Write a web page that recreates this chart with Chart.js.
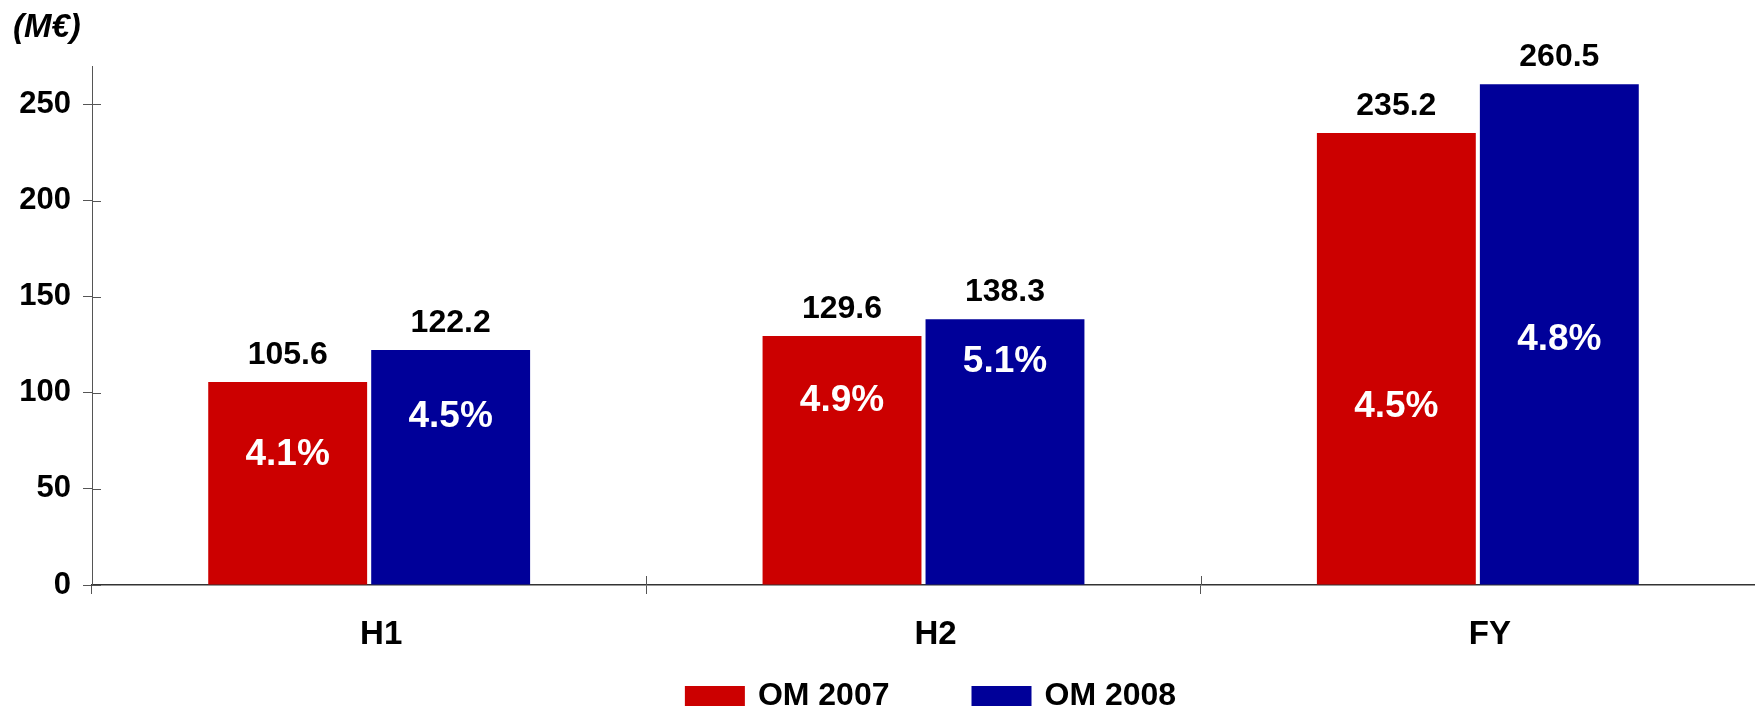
<!DOCTYPE html>
<html>
<head>
<meta charset="utf-8">
<title>OM 2007 / OM 2008</title>
<script src="https://cdn.jsdelivr.net/npm/chart.js@4.4.1/dist/chart.umd.min.js"></script>
<style>
  html, body { margin: 0; padding: 0; background: #fff; }
  #wrap { width: 1755px; height: 711px; position: relative; }
</style>
</head>
<body>
<div id="wrap"><canvas id="omChart"></canvas></div>
<script>
// operating margin (M€) per half-year and full year
const periods = ['H1', 'H2', 'FY'];
const om2007 = [105.6, 129.6, 235.2];
const om2008 = [122.2, 138.3, 260.5];
// margin rate written inside each bar (%)
const rate2007 = [4.1, 4.9, 4.5];
const rate2008 = [4.5, 5.1, 4.8];
const seriesNames = ['OM 2007', 'OM 2008'];
const yMax = 270;
const yStep = 50;

const FONT = "'Liberation Sans', Arial, sans-serif";
const RED = '#cc0000';
const BLUE = '#000099';

// height (in M€) where each rate label sits inside its bar
const rateLabelAt = [
    [67.9, 96.0, 92.9],
    [87.3, 116.3, 127.7]
];

// draws the inner half of the crossing ticks, value labels, rates, unit and legend
const decorations = {
    id: 'decorations',
    afterDatasetsDraw(chart) {
        const ctx = chart.ctx;
        const area = chart.chartArea;
        const x = chart.scales.x;
        const y = chart.scales.y;

        ctx.save();
        // ticks reaching into the plot area
        ctx.strokeStyle = '#555';
        ctx.lineWidth = 1;
        y.ticks.forEach(t => {
            const py = Math.round(y.getPixelForValue(t.value)) + 0.5;
            ctx.beginPath();
            ctx.moveTo(area.left, py);
            ctx.lineTo(area.left + 9, py);
            ctx.stroke();
        });
        for (let i = 1; i < periods.length; i++) {
            const px = Math.round((x.getPixelForValue(i - 1) + x.getPixelForValue(i)) / 2) + 0.5;
            ctx.beginPath();
            ctx.moveTo(px, area.bottom);
            ctx.lineTo(px, area.bottom - 9);
            ctx.stroke();
        }

        // values above bars, rates inside
        ctx.textAlign = 'center';
        ctx.textBaseline = 'middle';
        chart.data.datasets.forEach((ds, di) => {
            const meta = chart.getDatasetMeta(di);
            const rates = di === 0 ? rate2007 : rate2008;
            meta.data.forEach((bar, i) => {
                ctx.fillStyle = '#000';
                ctx.font = 'bold 32px ' + FONT;
                ctx.fillText(ds.data[i].toFixed(1), bar.x, bar.y - 27);
                ctx.fillStyle = '#fff';
                ctx.font = 'bold 37px ' + FONT;
                ctx.fillText(rates[i].toFixed(1) + '%', bar.x, y.getPixelForValue(rateLabelAt[di][i]));
            });
        });

        // unit
        ctx.textAlign = 'left';
        ctx.fillStyle = '#000';
        ctx.font = 'italic bold 33px ' + FONT;
        ctx.fillText('(M€)', 13, 28);

        // legend
        ctx.font = 'bold 32px ' + FONT;
        const boxW = 60, boxH = 20, textGap = 13, itemGap = 82;
        const items = chart.data.datasets.map(ds => ({
            label: ds.label,
            color: ds.backgroundColor,
            w: boxW + textGap + ctx.measureText(ds.label).width
        }));
        const total = items.reduce((s, it) => s + it.w, 0) + itemGap * (items.length - 1);
        let lx = (area.left + area.right) / 2 + 7 - total / 2;
        const ly = 696;
        items.forEach(it => {
            ctx.fillStyle = it.color;
            ctx.fillRect(lx, ly - boxH / 2, boxW, boxH);
            ctx.fillStyle = '#000';
            ctx.fillText(it.label, lx + boxW + textGap, ly);
            lx += it.w + itemGap;
        });
        ctx.restore();
    }
};

new Chart(document.getElementById('omChart'), {
    type: 'bar',
    data: {
        labels: periods,
        datasets: [
            { label: seriesNames[0], data: om2007, backgroundColor: RED },
            { label: seriesNames[1], data: om2008, backgroundColor: BLUE }
        ]
    },
    options: {
        responsive: true,
        maintainAspectRatio: false,
        animation: false,
        events: [],
        layout: { padding: { top: 66, right: 0, bottom: 0, left: 0 } },
        datasets: {
            bar: { categoryPercentage: 0.588, barPercentage: 0.975, borderWidth: 0 }
        },
        plugins: {
            legend: { display: false },
            tooltip: { enabled: false }
        },
        scales: {
            x: {
                afterFit(scale) { scale.height = 126; },
                grid: { display: true, drawOnChartArea: false, tickLength: 9, color: '#555', offset: true },
                border: { display: true, color: '#333', width: 1.5 },
                ticks: {
                    color: '#000',
                    padding: 21,
                    labelOffset: 12,
                    font: { family: FONT, size: 33, weight: 'bold' }
                }
            },
            y: {
                min: 0,
                max: yMax,
                afterFit(scale) { scale.width = 92; },
                grid: { display: true, drawOnChartArea: false, tickLength: 9, color: '#555' },
                border: { display: true, color: '#555', width: 1 },
                ticks: {
                    stepSize: yStep,
                    includeBounds: false,
                    color: '#000',
                    padding: 12,
                    font: { family: FONT, size: 31, weight: 'bold' }
                }
            }
        }
    },
    plugins: [decorations]
});
</script>
</body>
</html>
